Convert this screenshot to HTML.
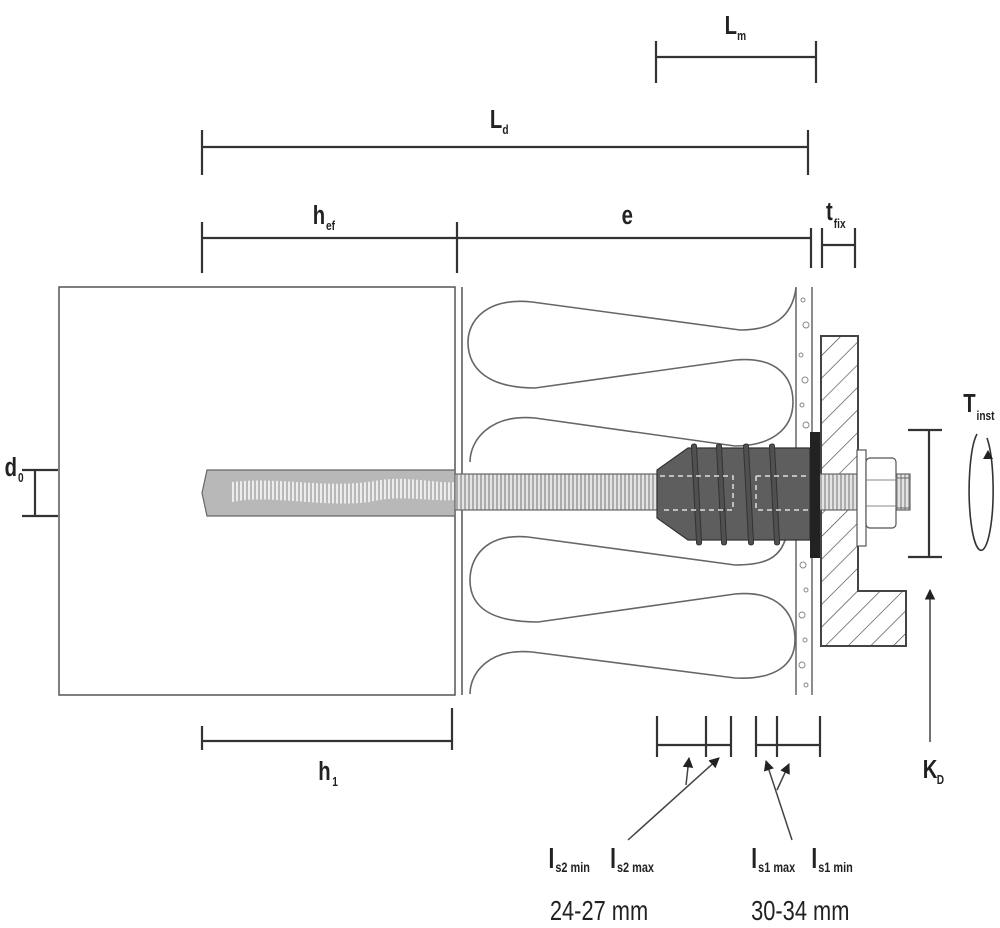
<!DOCTYPE html>
<html><head><meta charset="utf-8"><style>
html,body{margin:0;padding:0;background:#fff;}
svg{display:block;}
text{font-family:"Liberation Sans",sans-serif;font-weight:bold;fill:#222;}
text.n{font-weight:normal;}
</style></head><body>
<svg width="1000" height="928" viewBox="0 0 1000 928" xmlns="http://www.w3.org/2000/svg">
<defs>
<pattern id="hatch" width="16" height="16" patternUnits="userSpaceOnUse" patternTransform="rotate(45)">
<line x1="0" y1="0" x2="0" y2="16" stroke="#444" stroke-width="1.3"/>
</pattern>
<pattern id="thr" width="4" height="10" patternUnits="userSpaceOnUse">
<rect width="4" height="10" fill="#e4e4e4"/><line x1="1" y1="0" x2="1" y2="10" stroke="#888" stroke-width="1.2"/>
</pattern>
<pattern id="wav" width="4" height="10" patternUnits="userSpaceOnUse">
<line x1="1" y1="0" x2="1" y2="10" stroke="#fff" stroke-width="1.5"/>
</pattern>
<marker id="ah" viewBox="0 0 10 10" refX="9" refY="5" markerWidth="7" markerHeight="7" orient="auto"><path d="M0,0 L10,5 L0,10 z" fill="#222"/></marker>
</defs>

<g stroke="#333" stroke-width="2.2" fill="none">
<line x1="656" y1="57" x2="816" y2="57"/><line x1="656" y1="41" x2="656" y2="83"/><line x1="816" y1="41" x2="816" y2="83"/>
<line x1="202" y1="147" x2="808" y2="147"/><line x1="202" y1="130" x2="202" y2="175"/><line x1="808" y1="130" x2="808" y2="175"/>
<line x1="202" y1="238" x2="810" y2="238"/><line x1="202" y1="222" x2="202" y2="273"/><line x1="457" y1="222" x2="457" y2="273"/><line x1="811" y1="228" x2="811" y2="268"/>
<line x1="822" y1="228" x2="822" y2="268"/><line x1="855" y1="228" x2="855" y2="268"/><line x1="822" y1="245" x2="855" y2="245"/>
<line x1="22" y1="470" x2="58" y2="470"/><line x1="22" y1="516" x2="58" y2="516"/><line x1="35" y1="470" x2="35" y2="516"/>
<line x1="202" y1="741" x2="452" y2="741"/><line x1="202" y1="726" x2="202" y2="750"/><line x1="452" y1="708" x2="452" y2="750"/>
<line x1="908" y1="430" x2="942" y2="430"/><line x1="908" y1="557" x2="942" y2="557"/><line x1="929" y1="430" x2="929" y2="557"/>
<line x1="657" y1="745" x2="731" y2="745"/><line x1="657" y1="716" x2="657" y2="757"/><line x1="706" y1="716" x2="706" y2="757"/><line x1="731" y1="716" x2="731" y2="757"/>
<line x1="756" y1="745" x2="820" y2="745"/><line x1="756" y1="716" x2="756" y2="757"/><line x1="777" y1="716" x2="777" y2="757"/><line x1="820" y1="716" x2="820" y2="757"/>
</g>
<g stroke="#444" stroke-width="1.5" fill="none">
<line x1="628" y1="840" x2="719" y2="758" marker-end="url(#ah)"/>
<line x1="686" y1="785" x2="689" y2="758" marker-end="url(#ah)"/>
<line x1="792" y1="840" x2="766" y2="761" marker-end="url(#ah)"/>
<line x1="777" y1="790" x2="789" y2="764" marker-end="url(#ah)"/>
<line x1="930" y1="742" x2="930" y2="590" marker-end="url(#ah)"/>
<path d="M977,434 A12,60 0 1,0 987,438" stroke="#333" stroke-width="1.6"/>
</g>
<path d="M988,450 l-5,9 l10,0 z" fill="#222"/>

<rect x="59" y="287" width="396" height="408" fill="#fff" stroke="#555" stroke-width="1.5"/>
<line x1="462" y1="287" x2="462" y2="695" stroke="#555" stroke-width="1.5"/>
<g stroke="#666" stroke-width="1.6" fill="none">
<path d="M796,288 C792,318 772,330 740,330 L532,302 C485,297 468,322 468,342 C468,370 490,388 535,388 L735,360 C780,356 793,380 793,402 C793,430 770,446 735,446 L535,418 C490,414 470,440 470,462"/>
<path d="M786,537 C780,560 762,565 735,565 L528,537 C485,533 470,558 470,580 C470,608 492,622 538,622 L735,594 C780,590 795,615 795,640 C795,665 775,680 735,678 L532,652 C490,648 470,672 470,694"/>
</g>
<line x1="796" y1="287" x2="796" y2="695" stroke="#666" stroke-width="1.5"/>
<line x1="812" y1="287" x2="812" y2="695" stroke="#666" stroke-width="1.5"/>
<g fill="none" stroke="#888" stroke-width="1">
<circle cx="803" cy="300" r="2"/><circle cx="806" cy="325" r="3"/><circle cx="801" cy="355" r="2"/><circle cx="805" cy="380" r="3"/><circle cx="802" cy="405" r="2"/><circle cx="806" cy="425" r="3"/><circle cx="803" cy="565" r="3"/><circle cx="806" cy="590" r="2"/><circle cx="802" cy="615" r="3"/><circle cx="805" cy="640" r="2"/><circle cx="802" cy="665" r="3"/><circle cx="806" cy="685" r="2"/>
</g>
<path d="M821,336 L858,336 L858,591 L906,591 L906,646 L821,646 Z" fill="url(#hatch)" stroke="#444" stroke-width="2"/>

<path d="M207,470 L455,470 L455,516 L207,516 L202,493 Z" fill="#b8b8b8" stroke="#666" stroke-width="1.2"/>
<path d="M232,482 C280,476 330,490 380,480 C410,476 440,484 455,482 L455,500 C430,502 400,494 370,502 C320,508 270,494 232,502 Z" fill="url(#wav)"/>
<rect x="455" y="474" width="455" height="36" fill="url(#thr)" stroke="#666" stroke-width="1.2"/>
<path d="M657,470 L688,448 L810,448 L810,540 L688,540 L657,518 Z" fill="#5e5e5e" stroke="#333" stroke-width="1.2"/>
<g fill="#505050" stroke="#333" stroke-width="1">
<rect x="694" y="444" width="5" height="101" rx="2" transform="rotate(-3 696 494)"/>
<rect x="719" y="444" width="5" height="101" rx="2" transform="rotate(-3 721 494)"/>
<rect x="746" y="444" width="5" height="101" rx="2" transform="rotate(-3 748 494)"/>
<rect x="772" y="444" width="5" height="101" rx="2" transform="rotate(-3 774 494)"/>
</g>
<g stroke="#ddd" stroke-width="1.5" stroke-dasharray="5,4" fill="none">
<path d="M660,476 H733 V510 H660"/><path d="M756,476 H810 M756,476 V510 H810"/>
</g>
<rect x="810" y="432" width="10" height="126" fill="#222"/>
<rect x="857" y="450" width="9" height="96" fill="#fff" stroke="#555" stroke-width="1.2"/>
<rect x="866" y="458" width="30" height="70" rx="4" fill="#fff" stroke="#555" stroke-width="1.2"/>
<line x1="866" y1="480" x2="896" y2="480" stroke="#888"/><line x1="866" y1="506" x2="896" y2="506" stroke="#888"/>
<rect x="896" y="478" width="14" height="30" fill="url(#thr)" stroke="#666"/>

<g transform="scale(0.78,1)">
<text x="929" y="34" font-size="26">L</text><text x="945" y="40" font-size="13">m</text>
<text x="628" y="128" font-size="26">L</text><text x="644" y="134" font-size="13">d</text>
<text x="401" y="224" font-size="26">h</text><text x="418" y="230" font-size="13">ef</text>
<text x="797" y="224" font-size="26">e</text>
<text x="1059" y="220" font-size="26">t</text><text x="1069" y="228" font-size="13">fix</text>
<text x="1235" y="412" font-size="26">T</text><text x="1252" y="420" font-size="13">inst</text>
<text x="6" y="476" font-size="26">d</text><text x="23" y="482" font-size="13">0</text>
<text x="408" y="780" font-size="26">h</text><text x="426" y="786" font-size="13">1</text>
<text x="1183" y="778" font-size="26">K</text><text x="1201" y="784" font-size="13">D</text>
<text x="703" y="868" font-size="28">l</text><text x="712" y="872" font-size="14">s2 min</text>
<text x="782" y="868" font-size="28">l</text><text x="791" y="872" font-size="14">s2 max</text>
<text x="963" y="868" font-size="28">l</text><text x="972" y="872" font-size="14">s1 max</text>
<text x="1040" y="868" font-size="28">l</text><text x="1049" y="872" font-size="14">s1 min</text>
<text class="n" x="705" y="920" font-size="28">24-27 mm</text>
<text class="n" x="963" y="920" font-size="28">30-34 mm</text>
</g>
</svg>
</body></html>
